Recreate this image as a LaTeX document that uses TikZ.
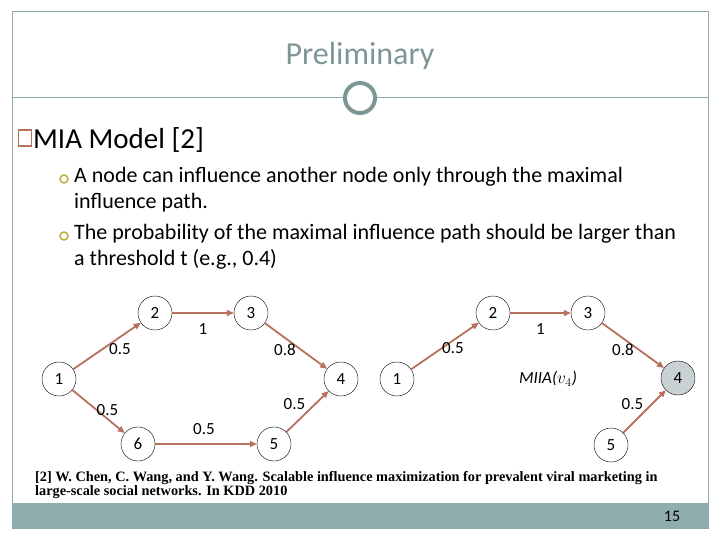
\documentclass[tikz,border=0pt]{standalone}
\usepackage{fontspec}
\setmainfont{Carlito}
\newfontfamily\citefont{Liberation Serif}
\usetikzlibrary{arrows.meta}
\definecolor{slategray}{HTML}{8FA8A8}
\definecolor{titlegray}{HTML}{7D9696}
\definecolor{barteal}{HTML}{8FADAD}
\definecolor{edgebrown}{HTML}{B5705E}
\definecolor{squarebrown}{HTML}{B5715A}
\definecolor{bulletolive}{HTML}{B8B23C}
\definecolor{seedgray}{HTML}{C9D1D5}
\tikzset{
  vnode/.style={circle, draw, line width=0.4pt, minimum size=34pt, inner sep=0pt, font=\fontsize{17}{17}\selectfont},
  infl/.style={draw=edgebrown, line width=1.8pt, -{Triangle[length=7pt,width=6pt]}},
  prob/.style={font=\fontsize{17}{17}\selectfont, inner sep=0pt},
  bullet/.style={circle, draw=bulletolive, line width=1.5pt, minimum size=8pt, inner sep=0pt},
  bodytext/.style={anchor=west, align=left, inner sep=0pt, font=\fontsize{22}{26}\selectfont}
}
\begin{document}
\begin{tikzpicture}[x=1pt, y=-1pt]
\useasboundingbox (0,0) rectangle (720,540);
% slide frame and header
\draw[slategray, line width=1pt] (12,12) rectangle (708,528);
\fill[barteal] (12,503) rectangle (708,528);
\node (title) [text=titlegray, font=\fontsize{32}{32}\selectfont] at (360,56) {Preliminary};
\node (ring) [circle, draw=titlegray, line width=4pt, minimum size=30pt, inner sep=0pt] at (360,98) {};
\draw[slategray, line width=1pt] (12,98) -- (ring.west);
\draw[slategray, line width=1pt] (ring.east) -- (708,98);
\node (page) [font=\fontsize{16}{16}\selectfont] at (672,516) {15};

% text
\node (square) [draw=squarebrown, line width=1.3pt, minimum width=13pt, minimum height=16pt, inner sep=0pt] at (25,138) {};
\node (heading) [anchor=west, inner sep=0pt, font=\fontsize{29}{30}\selectfont] at (33,140) {MIA Model [2]};
\node (b1) [bullet] at (64,179) {};
\node (t1) [bodytext, anchor=north west] at (74,167) {A node can influence another node only through the maximal\\influence path.};
\node (b2) [bullet] at (64,236) {};
\node (t2) [bodytext, anchor=north west] at (74,224) {The probability of the maximal influence path should be larger than\\a threshold t (e.g., 0.4)};

% left graph
\node (l1) [vnode] at (59,379) {1};
\node (l2) [vnode] at (155,313) {2};
\node (l3) [vnode] at (251,313) {3};
\node (l4) [vnode] at (341,379) {4};
\node (l5) [vnode] at (274,444) {5};
\node (l6) [vnode] at (138,444) {6};
\draw[infl] (l1) -- node[prob, shift={(13,3)}] {0.5} (l2);
\draw[infl] (l2) -- node[prob, shift={(0,16)}] {1} (l3);
\draw[infl] (l3) -- node[prob, shift={(-11,4)}] {0.8} (l4);
\draw[infl] (l1) -- node[prob, shift={(9,-1)}] {0.5} (l6);
\draw[infl] (l6) -- node[prob, shift={(-2,-15)}] {0.5} (l5);
\draw[infl] (l5) -- node[prob, shift={(-13,-7)}] {0.5} (l4);

% right graph: MIIA of node 4
\node (r1) [vnode] at (397,379) {1};
\node (r2) [vnode] at (493,313) {2};
\node (r3) [vnode] at (588,313) {3};
\node (r4) [vnode, fill=seedgray] at (678,378) {4};
\node (r5) [vnode] at (611,445) {5};
\node (miia) [font=\fontsize{17}{17}\selectfont] at (548,379) {\itshape MIIA($v_4$)};
\draw[infl] (r1) -- node[prob, shift={(8,2)}] {0.5} (r2);
\draw[infl] (r2) -- node[prob, shift={(0,16)}] {1} (r3);
\draw[infl] (r3) -- node[prob, shift={(-10,4)}] {0.8} (r4);
\draw[infl] (r5) -- node[prob, shift={(-12,-7)}] {0.5} (r4);

% reference
\node (cite) [anchor=north west, align=left, inner sep=0pt, font=\citefont\bfseries\fontsize{14.3}{14.5}\selectfont] at (35,471) {[2] W. Chen, C. Wang, and Y. Wang. Scalable influence maximization for prevalent viral marketing in\\large-scale social networks. In KDD 2010};
\end{tikzpicture}
\end{document}
